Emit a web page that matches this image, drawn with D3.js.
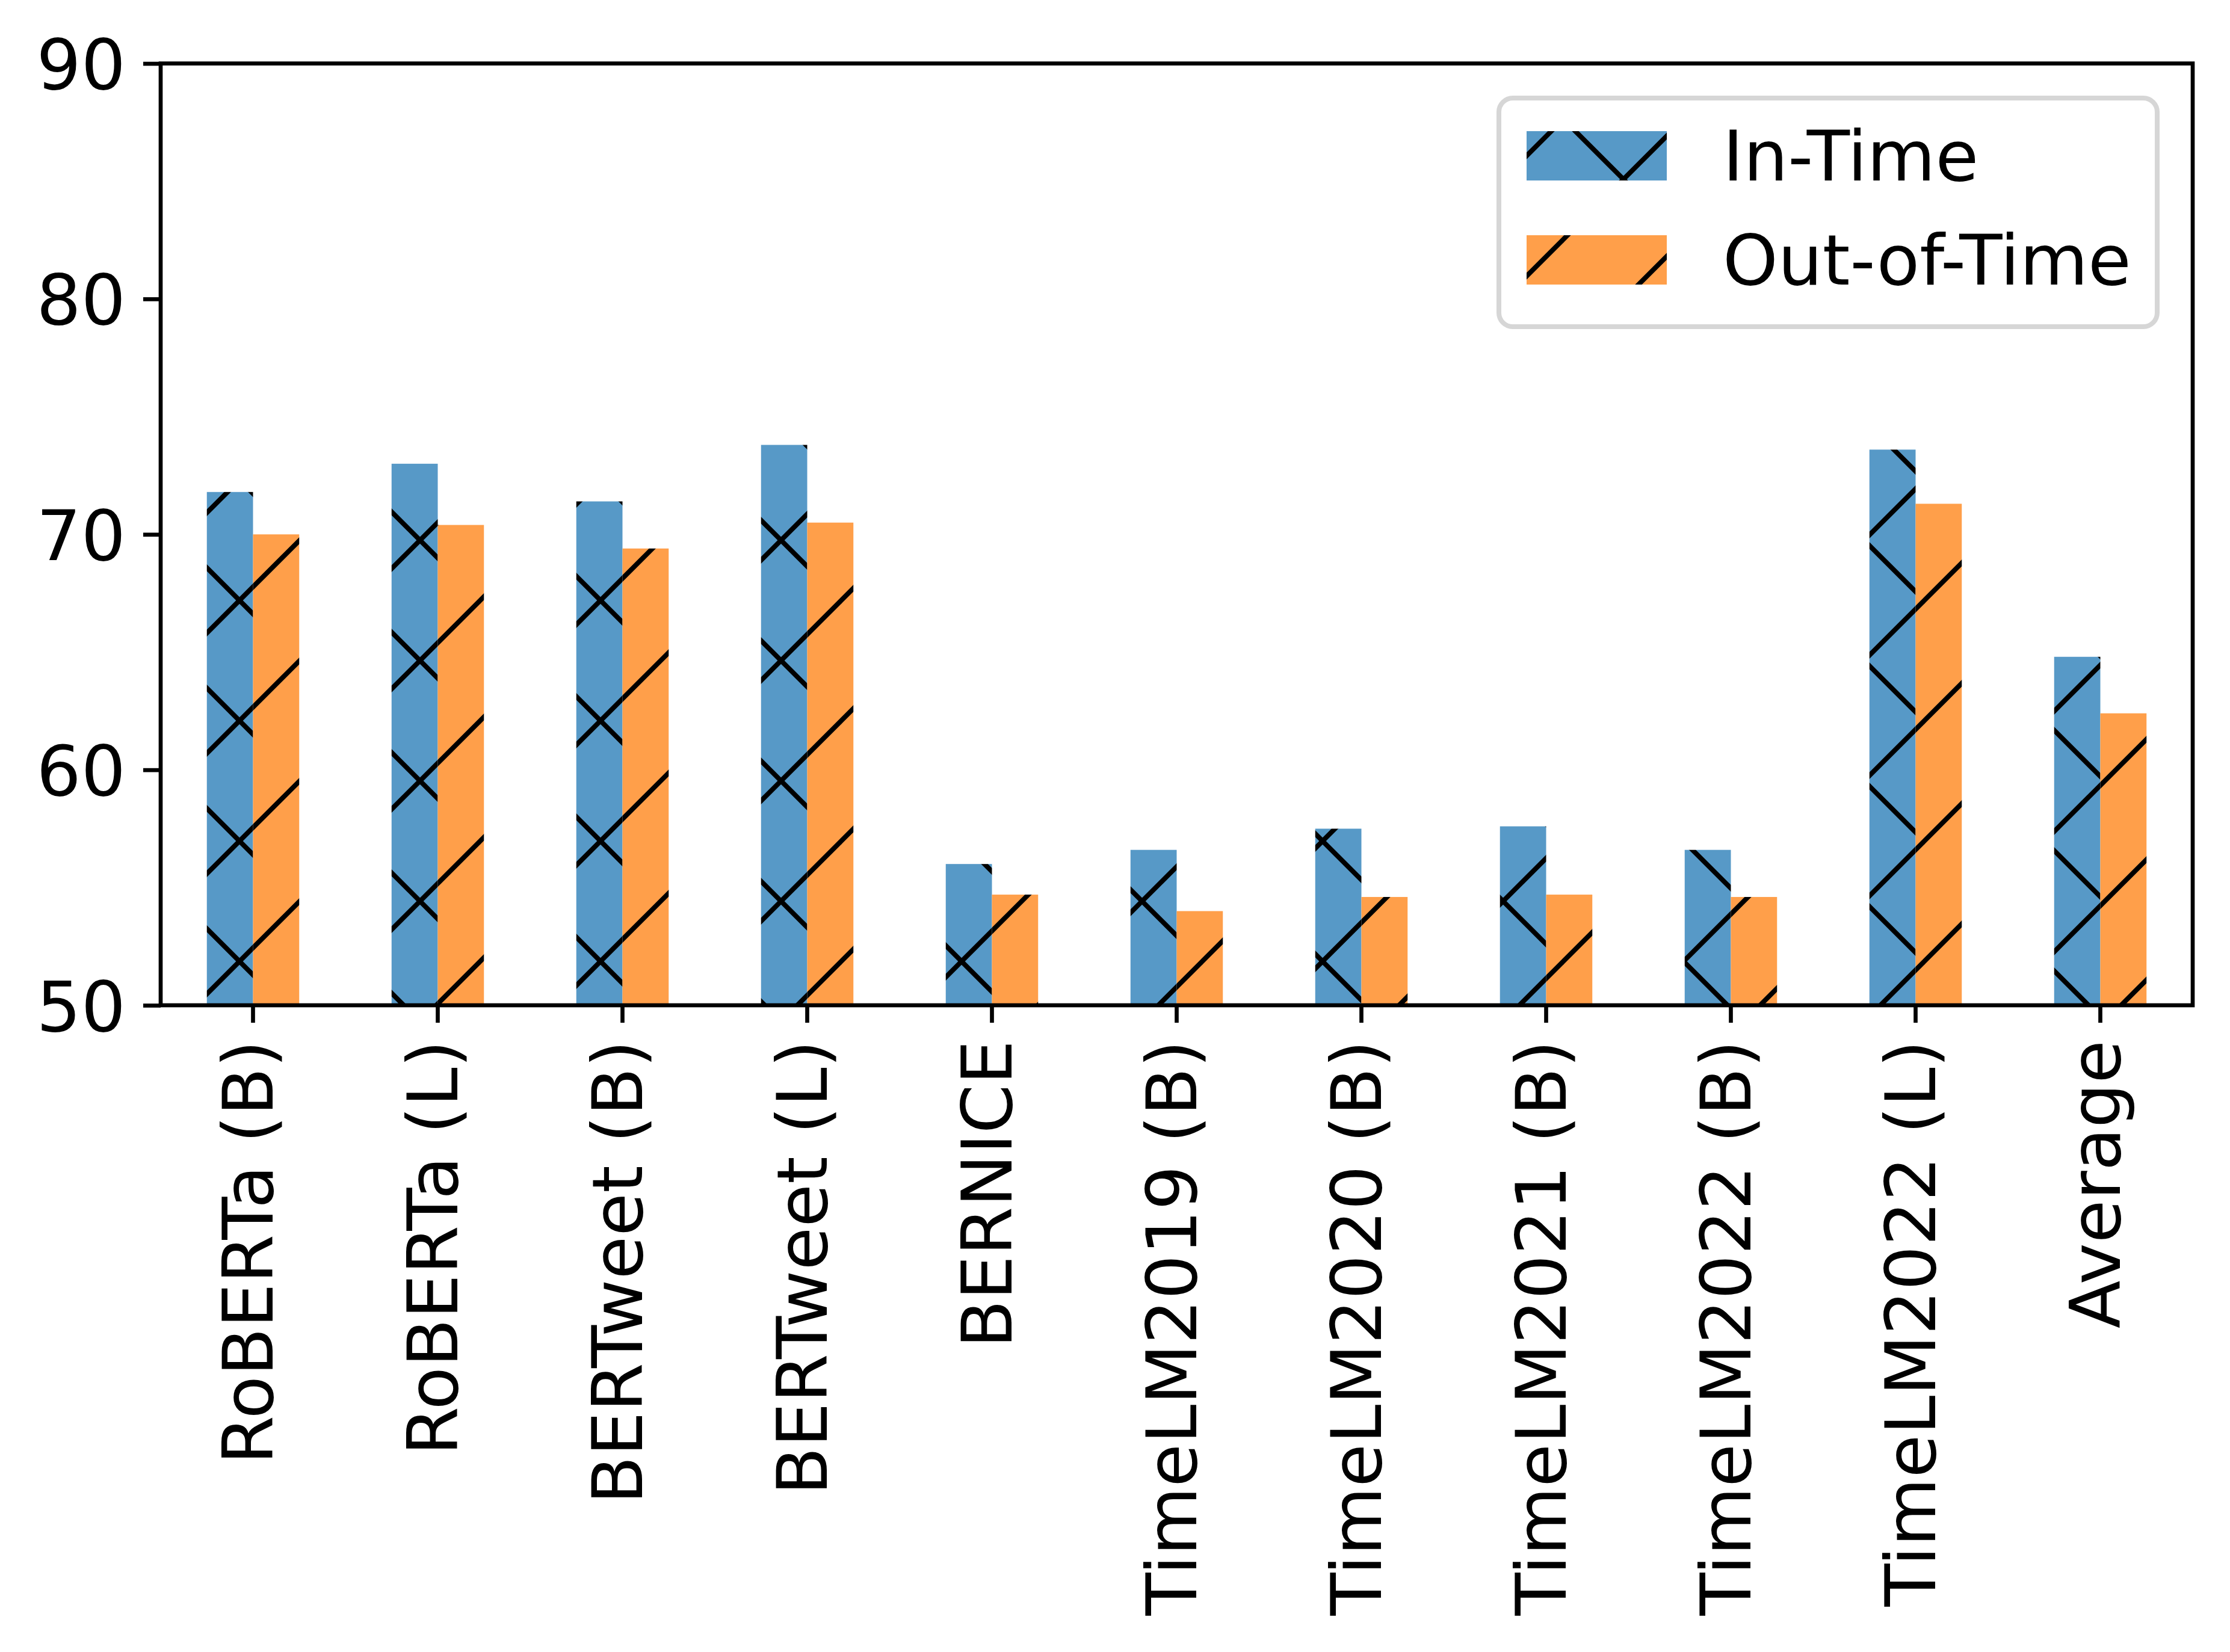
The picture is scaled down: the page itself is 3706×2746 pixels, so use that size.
<html>

<head>
    <meta charset="UTF-8">
    <title>In-Time vs Out-of-Time</title>
    <style>
        body { margin: 0; background: #ffffff; }
        svg { display: block; }
    </style>
</head>

<body>
<script src="https://d3js.org/d3.v7.min.js"></script>

    <!-- Div for SVG chart creation -->
    <div id="svg_chart"></div>

<script>
    // Chart data
    const models = ["RoBERTa (B)", "RoBERTa (L)", "BERTweet (B)", "BERTweet (L)", "BERNICE",
        "TimeLM2019 (B)", "TimeLM2020 (B)", "TimeLM2021 (B)", "TimeLM2022 (B)", "TimeLM2022 (L)", "Average"];
    const inTime = [71.8, 73.0, 71.4, 73.8, 56.0, 56.6, 57.5, 57.6, 56.6, 73.6, 64.8];
    const outOfTime = [70.0, 70.4, 69.4, 70.5, 54.7, 54.0, 54.6, 54.7, 54.6, 71.3, 62.4];
    const seriesNames = ["In-Time", "Out-of-Time"];
    const yTicks = [50, 60, 70, 80, 90];

    // Page and plot box
    const W = 3706, H = 2746;
    const plot = {left: 267, right: 3644, top: 105.5, bottom: 1671};
    const fontSize = 116.7;
    const lineW = 6.67;
    const tickLen = 29, tickPad = 29;

    const blue = "rgb(87,153,199)", orange = "rgb(255,159,74)";

    const svg = d3.select("#svg_chart")
        .append("svg")
        .attr("width", W)
        .attr("height", H)
        .attr("viewBox", `0 0 ${W} ${H}`)
        .style("font-family", "'DejaVu Sans', sans-serif");

    svg.append("rect").attr("width", W).attr("height", H).attr("fill", "#ffffff");

    // Hatch patterns, tiled in page space so lines run on across bars (like matplotlib)
    const defs = svg.append("defs");
    const T = 200;   // hatch spacing
    function makeHatch(id, color, back, fwd) {
        const p = defs.append("pattern")
            .attr("id", id)
            .attr("patternUnits", "userSpaceOnUse")
            .attr("width", T).attr("height", T)
            .attr("patternTransform", "translate(-2,-2)");
        p.append("rect").attr("width", T).attr("height", T).attr("fill", color);
        let segs = [];
        if (fwd) { // "/" lines
            segs.push([-20, T + 20, T + 20, -20], [-20, 20, 20, -20], [T - 20, T + 20, T + 20, T - 20]);
        }
        if (back) { // "\" lines
            segs.push([-20, -20, T + 20, T + 20], [T - 20, -20, T + 20, 20], [-20, T - 20, 20, T + 20]);
        }
        p.selectAll("line").data(segs).join("line")
            .attr("x1", d => d[0]).attr("y1", d => d[1])
            .attr("x2", d => d[2]).attr("y2", d => d[3])
            .attr("stroke", "#000").attr("stroke-width", 8);
    }
    makeHatch("hatchIn", blue, true, true);
    makeHatch("hatchOut", orange, false, true);
    const fills = ["url(#hatchIn)", "url(#hatchOut)"];

    // Scales
    let xScale = d3.scaleBand()
        .domain(models)
        .range([plot.left, plot.right])
        .padding(0);
    let yScale = d3.scaleLinear()
        .domain([yTicks[0], yTicks[yTicks.length - 1]])
        .range([plot.bottom, plot.top]);

    const barW = xScale.bandwidth() * 0.25;
    const series = [inTime, outOfTime];

    // Bars: in-time left of the tick, out-of-time right of it
    series.forEach(function(vals, s) {
        svg.append("g")
            .selectAll("rect")
            .data(models.map((m, i) => ({m: m, v: vals[i]})))
            .join("rect")
            .attr("x", d => xScale(d.m) + xScale.bandwidth() / 2 - barW + s * barW)
            .attr("y", d => yScale(d.v))
            .attr("width", barW)
            .attr("height", d => yScale(yTicks[0]) - yScale(d.v))
            .attr("fill", fills[s]);
    });

    // y-axis
    const yAxis = svg.append("g")
        .attr("transform", `translate(${plot.left},0)`)
        .call(d3.axisLeft(yScale).tickValues(yTicks).tickSize(tickLen).tickPadding(tickPad).tickSizeOuter(0));
    yAxis.select(".domain").remove();
    yAxis.selectAll("line").attr("stroke-width", lineW);
    yAxis.selectAll("text")
        .attr("font-size", fontSize)
        .attr("font-family", "'DejaVu Sans', sans-serif")
        .attr("fill", "#000")
        .attr("dy", "0.36em");

    // x-axis with rotated labels
    const xAxis = svg.append("g")
        .attr("transform", `translate(0,${plot.bottom})`)
        .call(d3.axisBottom(xScale).tickSize(tickLen).tickPadding(tickPad).tickSizeOuter(0));
    xAxis.select(".domain").remove();
    xAxis.selectAll("line").attr("stroke-width", lineW);
    xAxis.selectAll("text")
        .attr("font-size", fontSize)
        .attr("font-family", "'DejaVu Sans', sans-serif")
        .attr("fill", "#000")
        .attr("transform", "rotate(-90)")
        .attr("x", -(tickLen + tickPad))
        .attr("y", 0)
        .attr("dy", "0.28em")
        .style("text-anchor", "end");

    // Spines (all four, drawn over the bars)
    svg.append("rect")
        .attr("x", plot.left).attr("y", plot.top)
        .attr("width", plot.right - plot.left)
        .attr("height", plot.bottom - plot.top)
        .attr("fill", "none")
        .attr("stroke", "#000")
        .attr("stroke-width", lineW);

    // Legend, upper right
    const leg = svg.append("g");
    leg.append("rect")
        .attr("x", 2491).attr("y", 163)
        .attr("width", 3585 - 2491).attr("height", 543 - 163)
        .attr("rx", 23).attr("ry", 23)
        .attr("fill", "#ffffff")
        .attr("stroke", "#d6d6d6")
        .attr("stroke-width", 8);
    const legRows = [218, 391];
    seriesNames.forEach(function(name, s) {
        leg.append("rect")
            .attr("x", 2537).attr("y", legRows[s])
            .attr("width", 233).attr("height", 82)
            .attr("fill", fills[s]);
        leg.append("text")
            .attr("x", 2863).attr("y", legRows[s] + 82)
            .attr("font-size", fontSize)
            .attr("fill", "#000")
            .text(name);
    });
</script>

</body>

</html>
